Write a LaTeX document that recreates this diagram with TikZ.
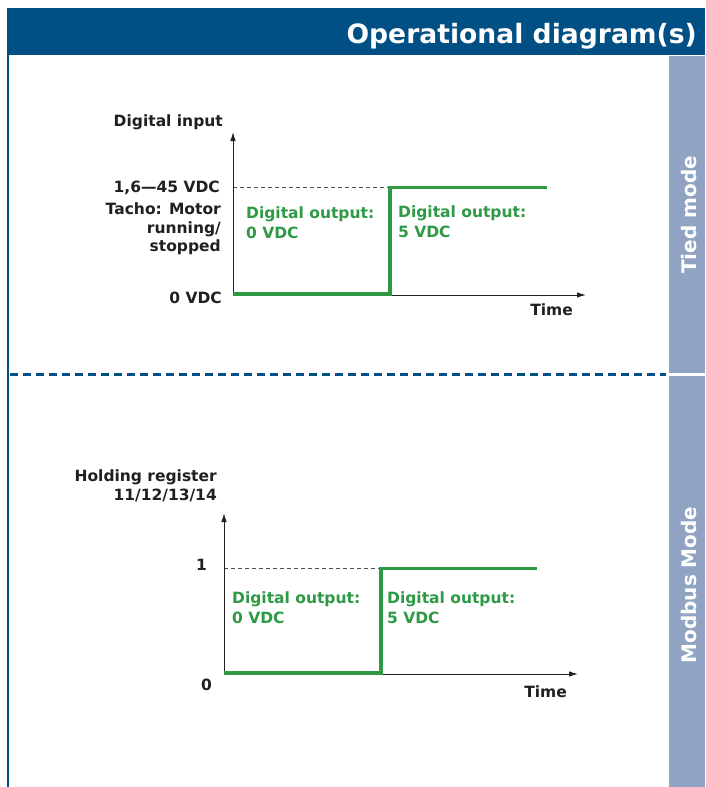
\documentclass[tikz,border=0pt]{standalone}
\usepackage{fontspec}
\setmainfont{DejaVu Sans}
\usetikzlibrary{arrows.meta}

\definecolor{headblue}{RGB}{0,80,134}
\definecolor{sidegray}{RGB}{145,163,194}
\definecolor{sigreen}{RGB}{46,154,70}
\definecolor{inkgray}{RGB}{35,31,32}

\tikzset{
  axislbl/.style={font=\fontsize{15.5}{18.5}\selectfont\bfseries, text=inkgray, inner sep=0pt, align=right},
  outlbl/.style={font=\fontsize{15.5}{19.5}\selectfont\bfseries, text=sigreen, inner sep=0pt, align=left, anchor=north west},
  modelbl/.style={font=\fontsize{20}{24}\selectfont\bfseries, text=white, rotate=90},
  axisline/.style={inkgray, line width=1pt, -{Latex[length=9pt,width=5.5pt]}},
  levelline/.style={inkgray!80, line width=0.7pt, dash pattern=on 4pt off 3pt},
  signal/.style={sigreen, line width=3.2pt},
}

\begin{document}
\begin{tikzpicture}[x=1pt,y=-1pt]
        \useasboundingbox (0,0) rectangle (705,787);
        \fill[white] (0,0) rectangle (705,787);
        % frame
        \fill[headblue] (7,8) rectangle (705,55);
        \node[anchor=base east, text=white, inner sep=0pt, font=\fontsize{26.6}{30}\selectfont\bfseries] (title) at (697,43) {Operational diagram(s)};
        \draw[headblue, line width=2pt] (8,55) -- (8,787);
        \fill[sidegray] (669,56) rectangle (705,787);
        \fill[white] (669,372.5) rectangle (705,376);
        \draw[headblue, line width=2.5pt, dash pattern=on 8pt off 5pt] (10,374.5) -- (666,374.5);
        \node[modelbl] (tied) at (689,215) {Tied mode};
        \node[modelbl] (modbus) at (689,585) {Modbus Mode};

        % tied mode diagram
        \coordinate (o1) at (233,295);
        \coordinate (y1) at (233,132);
        \coordinate (x1) at (586,295);
        \coordinate (h1) at (233,187.5);
        \coordinate (r1) at (390,294);
        \coordinate (u1) at (390,187.5);
        \coordinate (e1) at (547,187.5);
        \draw[levelline] (h1) -- (u1);
        \draw[axisline] (o1) -- (y1);
        \draw[axisline] (o1) -- (x1);
        \draw[signal] (233,294) -- (r1) -- (u1) -- (e1);
        \node[axislbl, anchor=north east] (din) at (223,115) {Digital input};
        \node[axislbl, anchor=north east] (hi1) at (220,181) {1,6—45 VDC};
        \node[axislbl, anchor=north east] (tacho) at (221,203) {Tacho: Motor\\running/\\stopped};
        \node[axislbl, anchor=north east] (lo1) at (222,292) {0 VDC};
        \node[axislbl, anchor=north east] (time1) at (573,304) {Time};
        \node[outlbl] (out0a) at (246,207) {Digital output:\\0 VDC};
        \node[outlbl] (out5a) at (398,206) {Digital output:\\5 VDC};

        % modbus mode diagram
        \coordinate (o2) at (224,674);
        \coordinate (y2) at (224,513);
        \coordinate (x2) at (578,674);
        \coordinate (h2) at (224,568.5);
        \coordinate (r2) at (381,673);
        \coordinate (u2) at (381,568.5);
        \coordinate (e2) at (537,568.5);
        \draw[levelline] (h2) -- (u2);
        \draw[axisline] (o2) -- (y2);
        \draw[axisline] (o2) -- (x2);
        \draw[signal] (224,673) -- (r2) -- (u2) -- (e2);
        \node[axislbl, anchor=north east] (hreg) at (217,470) {Holding register\\11/12/13/14};
        \node[axislbl, anchor=north east] (hi2) at (207,559) {1};
        \node[axislbl, anchor=north east] (lo2) at (212,679) {0};
        \node[axislbl, anchor=north east] (time2) at (567,686) {Time};
        \node[outlbl] (out0b) at (232,592) {Digital output:\\0 VDC};
        \node[outlbl] (out5b) at (387,592) {Digital output:\\5 VDC};
\end{tikzpicture}
\end{document}
